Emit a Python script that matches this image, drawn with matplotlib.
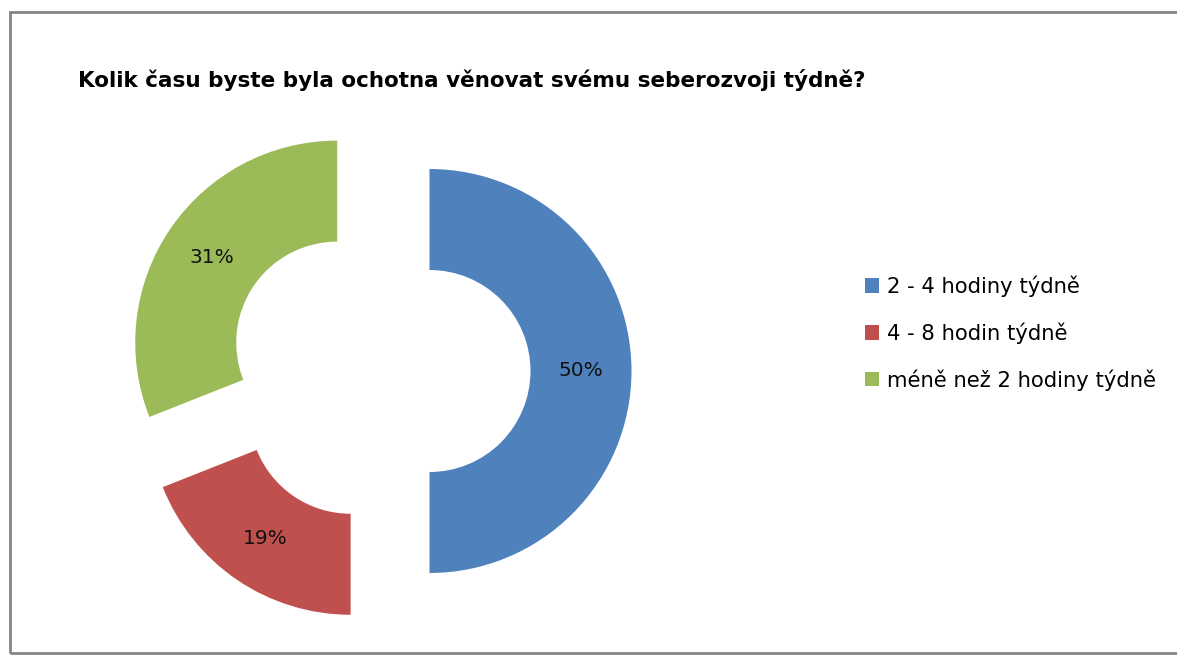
import matplotlib
matplotlib.use("Agg")
import matplotlib.pyplot as plt
from matplotlib.patches import Rectangle

plt.rcParams.update({"font.family": ["DejaVu Sans"]})

W, H = 1177, 656
title = "Kolik času byste byla ochotna věnovat svému seberozvoji týdně?"
categories = ["2 - 4 hodiny týdně", "4 - 8 hodin týdně", "méně než 2 hodiny týdně"]
shares = [50, 19, 31]
colors = ["#4F81BD", "#C0504D", "#9BBB59"]

fig = plt.figure(figsize=(W / 100, H / 100), dpi=100)
fig.patch.set_facecolor("white")

# chart frame (right edge runs off the image)
fig.add_artist(Rectangle((10 / W, 1 - 653 / H), 1.2, (653 - 12) / H,
                         transform=fig.transFigure, fill=False,
                         edgecolor="#868686", linewidth=2))

# donut placed in pixel terms: centre (379, 371), outer radius 202 px
cx, cy, R = 379, 371, 202
span = 1.4
half = span * R
ax = fig.add_axes([(cx - half) / W, (H - cy - half) / H, 2 * half / W, 2 * half / H])
wedges, texts, autotexts = ax.pie(
    shares, colors=colors, startangle=90, counterclock=False,
    explode=[0.25] * len(shares), radius=1,
    wedgeprops=dict(width=0.5, linewidth=0),
    autopct=lambda p: f"{p:.0f}%", pctdistance=0.75,
    textprops=dict(fontsize=14.5, color="#111111"))
ax.set_xlim(-span, span)
ax.set_ylim(-span, span)
ax.set_aspect("equal")
ax.axis("off")

fig.text(78 / W, 1 - 80 / H, title, fontsize=15.5, fontweight="bold",
         ha="left", va="center")

fig.legend(wedges, categories, loc="center left",
           bbox_to_anchor=(846 / W, 1 - 333 / H), frameon=False,
           fontsize=15.2, handlelength=0.67, handleheight=0.67,
           handletextpad=0.36, labelspacing=1.2)

fig.savefig("out.png", dpi=100, facecolor="white")
